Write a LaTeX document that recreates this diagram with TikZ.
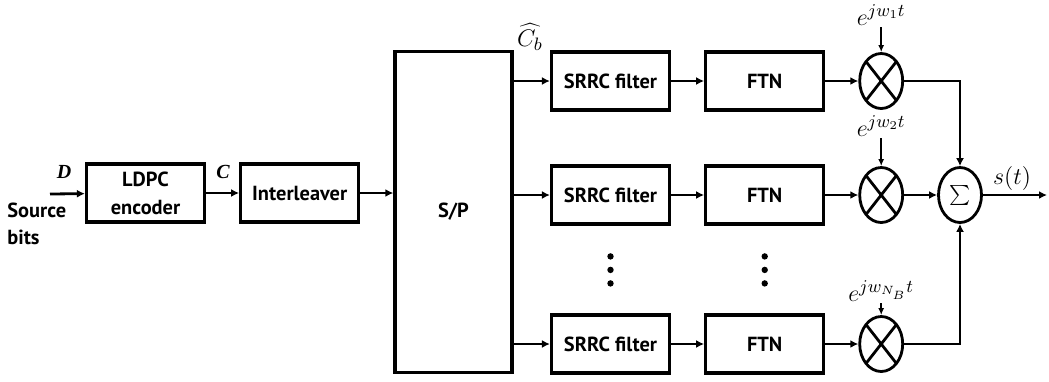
\documentclass[tikz,border=0pt]{standalone}
\usepackage[no-math]{fontspec}
\setmainfont{PT Sans}
\newfontfamily\serifbf{Liberation Serif}
\usetikzlibrary{arrows.meta,positioning,shapes.geometric}

\begin{document}
\begin{tikzpicture}[
  x=0.5pt, y=-0.5pt,
  node distance=16.5pt,
  box/.style={draw, line width=1.6pt, align=center, minimum width=59pt, minimum height=29pt, font=\fontsize{10.2}{14}\selectfont\bfseries},
  mixer/.style={draw, ellipse, line width=1.4pt, minimum width=21.5pt, minimum height=27.5pt, inner sep=0pt,
    path picture={\draw[line width=1.4pt] (path picture bounding box.north west) -- (path picture bounding box.south east)
      (path picture bounding box.north east) -- (path picture bounding box.south west);}},
  adder/.style={draw, ellipse, line width=1.4pt, minimum width=21.5pt, minimum height=27.5pt, inner sep=0pt, font=\fontsize{13.5}{15}\selectfont},
  lbl/.style={inner sep=0.5pt, font=\fontsize{12.5}{14}\selectfont},
  sym/.style={inner sep=0.5pt, font=\fontsize{10}{12}\selectfont\serifbf\bfseries\itshape},
  arrow/.style={-{Latex[length=4pt,width=4pt]}, line width=1.4pt},
  tap/.style={-{Latex[length=3.5pt,width=3pt]}, line width=1pt}
]
\useasboundingbox (0,0) rectangle (1049,381);

\node[box] (ldpc) at (145.5,193) {LDPC\\encoder};
\node[box, right=of ldpc] (inter) {Interleaver};
\node[box, right=of inter, yshift=-9.5pt, minimum width=58.5pt, minimum height=160.5pt] (sp) {S/P};

\node[box] (srrc1) at (610.5,81) {SRRC filter};
\node[box] (srrc2) at (610.5,195) {SRRC filter};
\node[box] (srrc3) at (610.5,344) {SRRC filter};
\node[box, right=of srrc1] (ftn1) {FTN};
\node[box, right=of srrc2] (ftn2) {FTN};
\node[box, right=of srrc3] (ftn3) {FTN};
\node[mixer, right=of ftn1] (mul1) {};
\node[mixer, right=of ftn2] (mul2) {};
\node[mixer, right=of ftn3] (mul3) {};
\node[adder, right=of mul2] (sum) {$\textstyle\sum$};

\node[lbl, above=12.5pt of mul1] (w1) {$e^{jw_1t}$};
\node[lbl, above=14pt of mul2] (w2) {$e^{jw_2t}$};
\node[lbl, above=6pt of mul3] (wnb) {$e^{jw_{N_B}t}$};
\node[lbl] (cb) at (530,37) {$\widehat{C_b}$};
\node[lbl] (st) at (1012,178) {$s(t)$};
\node[sym] (dlbl) at (64,172) {D};
\node[sym] (clbl) at (223,172) {C};
\node[align=left, anchor=north west, inner sep=0pt, font=\fontsize{10.2}{13.5}\selectfont\bfseries] (src) at (7,203) {Source\\bits};

\coordinate (in) at (50,194);
\coordinate (out) at (1047,195);

\draw[arrow] (in) -- (ldpc);
\draw[arrow] (ldpc) -- (inter);
\draw[arrow] (inter.east) -- (inter.east -| sp.west);
\foreach \i in {1,2,3} {
  \draw[arrow] (srrc\i.west -| sp.east) -- (srrc\i);
  \draw[arrow] (srrc\i) -- (ftn\i);
  \draw[arrow] (ftn\i) -- (mul\i);
}
\draw[tap] (w1) -- (mul1);
\draw[tap] (w2) -- (mul2);
\draw[tap] (wnb) -- (mul3);
\draw[arrow] (mul1) -| (sum);
\draw[arrow] (mul2) -- (sum);
\draw[arrow] (mul3) -| (sum);
\draw[arrow] (sum) -- (out);

% vertical dots between rows
\foreach \n in {srrc3,ftn3}
  \foreach \d in {15,21.75,28.5}
    \fill ([yshift=\d pt]\n.north) circle[radius=1.6pt];
\end{tikzpicture}
\end{document}
